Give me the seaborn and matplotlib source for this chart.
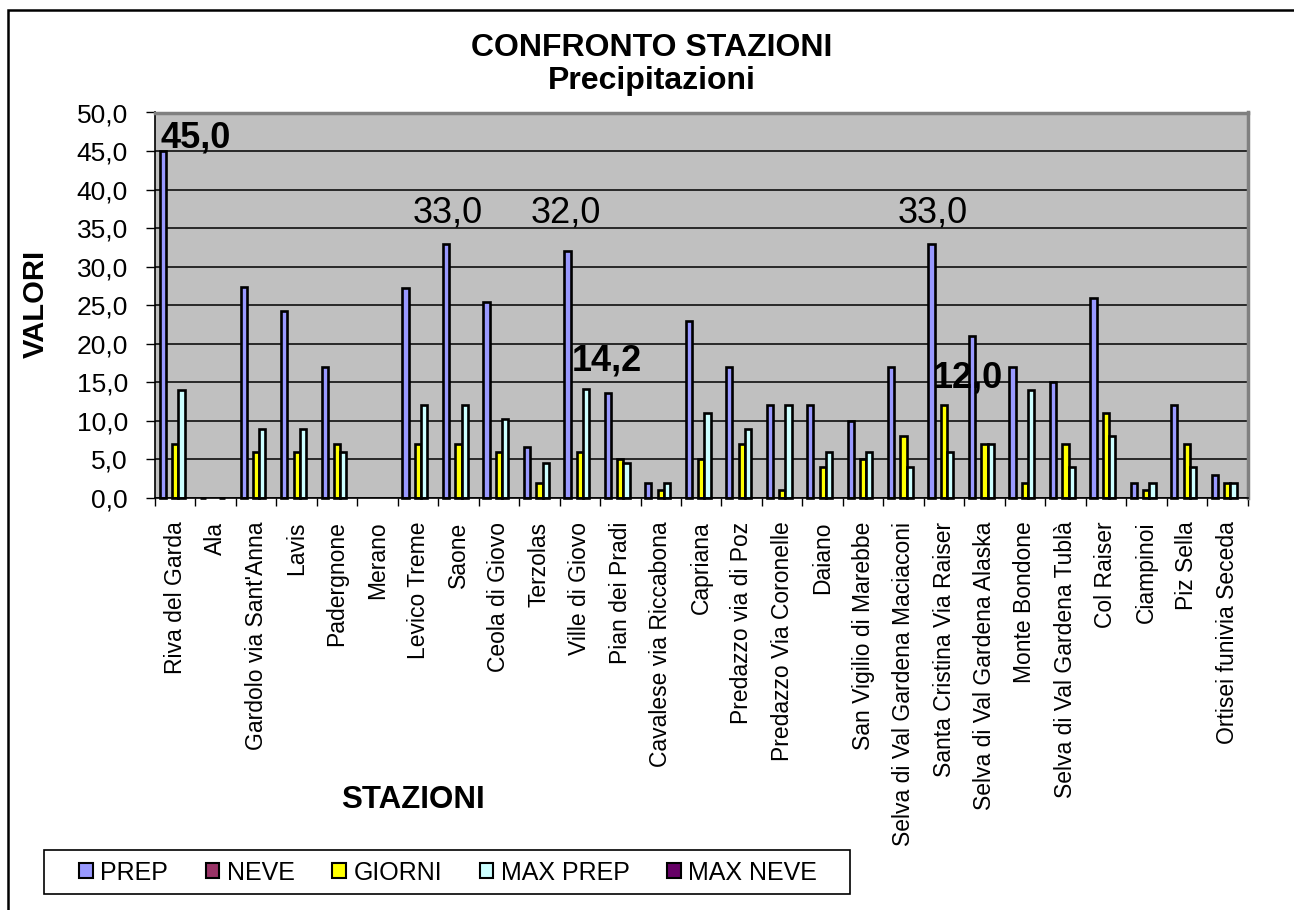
import numpy as np
import pandas as pd
import matplotlib
matplotlib.use("Agg")
import matplotlib.pyplot as plt
from matplotlib.patches import Patch, Rectangle
import seaborn as sns

nan = np.nan

# Stazioni di misura
stazioni = [
    "Riva del Garda", "Ala", "Gardolo via Sant'Anna", "Lavis", "Padergnone",
    "Merano", "Levico Treme", "Saone", "Ceola di Giovo", "Terzolas",
    "Ville di Giovo", "Pian dei Pradi", "Cavalese via Riccabona", "Capriana",
    "Predazzo via di Poz", "Predazzo Via Coronelle", "Daiano",
    "San Vigilio di Marebbe", "Selva di Val Gardena Maciaconi",
    "Santa Cristina Via Raiser", "Selva di Val Gardena Alaska",
    "Monte Bondone", "Selva di Val Gardena Tublà", "Col Raiser", "Ciampinoi",
    "Piz Sella", "Ortisei funivia Seceda",
]

serie = ["PREP", "NEVE", "GIORNI", "MAX PREP", "MAX NEVE"]

prep = [45.0, 0.0, 27.4, 24.2, 17.0, nan, 27.2, 33.0, 25.4, 6.6,
        32.0, 13.6, 2.0, 23.0, 17.0, 12.0, 12.0, 10.0, 17.0, 33.0,
        21.0, 17.0, 15.0, 26.0, 2.0, 12.0, 3.0]
neve = [nan] * 27
giorni = [7, nan, 6, 6, 7, nan, 7, 7, 6, 2,
          6, 5, 1, 5, 7, 1, 4, 5, 8, 12,
          7, 2, 7, 11, 1, 7, 2]
max_prep = [14.0, 0.0, 9.0, 9.0, 6.0, nan, 12.0, 12.0, 10.2, 4.6,
            14.2, 4.6, 2.0, 11.0, 9.0, 12.0, 6.0, 6.0, 4.0, 6.0,
            7.0, 14.0, 4.0, 8.0, 2.0, 4.0, 2.0]
max_neve = [nan] * 27

colori = {
    "PREP": "#9999FF",
    "NEVE": "#993366",
    "GIORNI": "#FFFF00",
    "MAX PREP": "#CCFFFF",
    "MAX NEVE": "#660066",
}

valori = {"PREP": prep, "NEVE": neve, "GIORNI": giorni,
          "MAX PREP": max_prep, "MAX NEVE": max_neve}

df = pd.DataFrame([
    {"Stazione": st, "Serie": s, "Valore": v}
    for s in serie for st, v in zip(stazioni, valori[s])
]).dropna()

plt.rcParams["font.family"] = ["Liberation Sans", "DejaVu Sans"]

W, H = 1294, 910
fig = plt.figure(figsize=(W / 100, H / 100), dpi=100)
fig.patch.set_facecolor("white")

x0, x1, y0, y1 = 155, 1247.5, 112.5, 498
ax = fig.add_axes([x0 / W, 1 - y1 / H, (x1 - x0) / W, (y1 - y0) / H])

bar_width = 5 / 6.5
sns.barplot(data=df, x="Stazione", y="Valore", hue="Serie",
            order=stazioni, hue_order=serie, palette=colori,
            width=bar_width, saturation=1, edgecolor="black",
            linewidth=1.9, errorbar=None, legend=False, ax=ax)
for p in ax.patches:
    p.set_clip_on(False)
    p.set_zorder(2.5)

ax.set_facecolor("#C0C0C0")
ax.set_xlim(-0.5, len(stazioni) - 0.5)
ax.set_ylim(0, 50)
ax.set_xlabel("")
ax.set_ylabel("")

# Asse Y
yt = np.arange(0, 51, 5)
ax.set_yticks(yt)
ax.set_yticklabels([f"{v:.1f}".replace(".", ",") for v in yt], fontsize=19)
ax.tick_params(axis="y", direction="out", length=6.5, width=1, pad=13,
               colors="black")
ax.yaxis.grid(True, color="black", linewidth=1.1)
ax.xaxis.grid(False)
ax.set_axisbelow(True)

# Asse X: etichette verticali, tacche tra le categorie
ax.set_xticks(range(len(stazioni)))
ax.set_xticklabels(stazioni, rotation=90, fontsize=16.5)
ax.tick_params(axis="x", which="major", length=0, pad=17)
ax.set_xticks(np.arange(-0.5, len(stazioni), 1), minor=True)
ax.tick_params(axis="x", which="minor", direction="out", length=6, width=1,
               colors="black")

for side in ("top", "right"):
    ax.spines[side].set_color("#808080")
    ax.spines[side].set_linewidth(2.5)
for side in ("left", "bottom"):
    ax.spines[side].set_color("black")
    ax.spines[side].set_linewidth(1.2)

# Etichette dei valori
slot = bar_width / len(serie)


def bar_center(i, s):
    return i + (serie.index(s) - (len(serie) - 1) / 2) * slot


etichette = [
    # stazione, serie, spostamento x, quota del testo, grassetto
    ("Riva del Garda", "PREP", 0.82, 45.4, True),
    ("Saone", "PREP", 0.03, 35.7, False),
    ("Ville di Giovo", "PREP", -0.04, 35.7, False),
    ("Ville di Giovo", "MAX PREP", 0.52, 16.6, True),
    ("Santa Cristina Via Raiser", "PREP", 0.02, 35.7, False),
    ("Santa Cristina Via Raiser", "GIORNI", 0.58, 14.3, True),
]
for st, s, dx, ty, bold in etichette:
    i = stazioni.index(st)
    v = valori[s][i]
    ax.text(bar_center(i, s) + dx, ty, f"{v:.1f}".replace(".", ","),
            ha="center", va="baseline", fontsize=26, zorder=4,
            fontweight="bold" if bold else "normal", color="black")

# Titoli
fig.text(652 / W, 1 - 56.5 / H, "CONFRONTO STAZIONI", ha="center",
         va="baseline", fontsize=23, fontweight="bold")
fig.text(652 / W, 1 - 89.5 / H, "Precipitazioni", ha="center",
         va="baseline", fontsize=23, fontweight="bold")
fig.text(413 / W, 1 - 808 / H, "STAZIONI", ha="center", va="baseline",
         fontsize=22.5, fontweight="bold")
fig.text(36 / W, 1 - 304 / H, "VALORI", ha="center", va="center",
         rotation=90, fontsize=21, fontweight="bold")

# Legenda: riquadro e voci
fig.add_artist(Rectangle((44 / W, 1 - 894 / H), (850 - 44) / W,
                         (894 - 850) / H, transform=fig.transFigure,
                         facecolor="white", edgecolor="black",
                         linewidth=1.2))
handles = [Patch(facecolor=colori[s], edgecolor="black", linewidth=1.5,
                 label=s) for s in serie]
leg = fig.legend(handles=handles, loc="center left",
                 bbox_to_anchor=(79 / W, 1 - 872.5 / H), ncol=5,
                 frameon=False, fontsize=18,
                 handlelength=0.55, handleheight=0.55, handletextpad=0.3,
                 columnspacing=1.5, borderpad=0, borderaxespad=0)

# Cornice esterna del grafico
fig.add_artist(Rectangle((8 / W, -0.05), 1.0, 1.05 - 9.7 / H,
                         transform=fig.transFigure, fill=False,
                         edgecolor="black", linewidth=1.8))

fig.savefig("out.png", dpi=100, facecolor="white")
